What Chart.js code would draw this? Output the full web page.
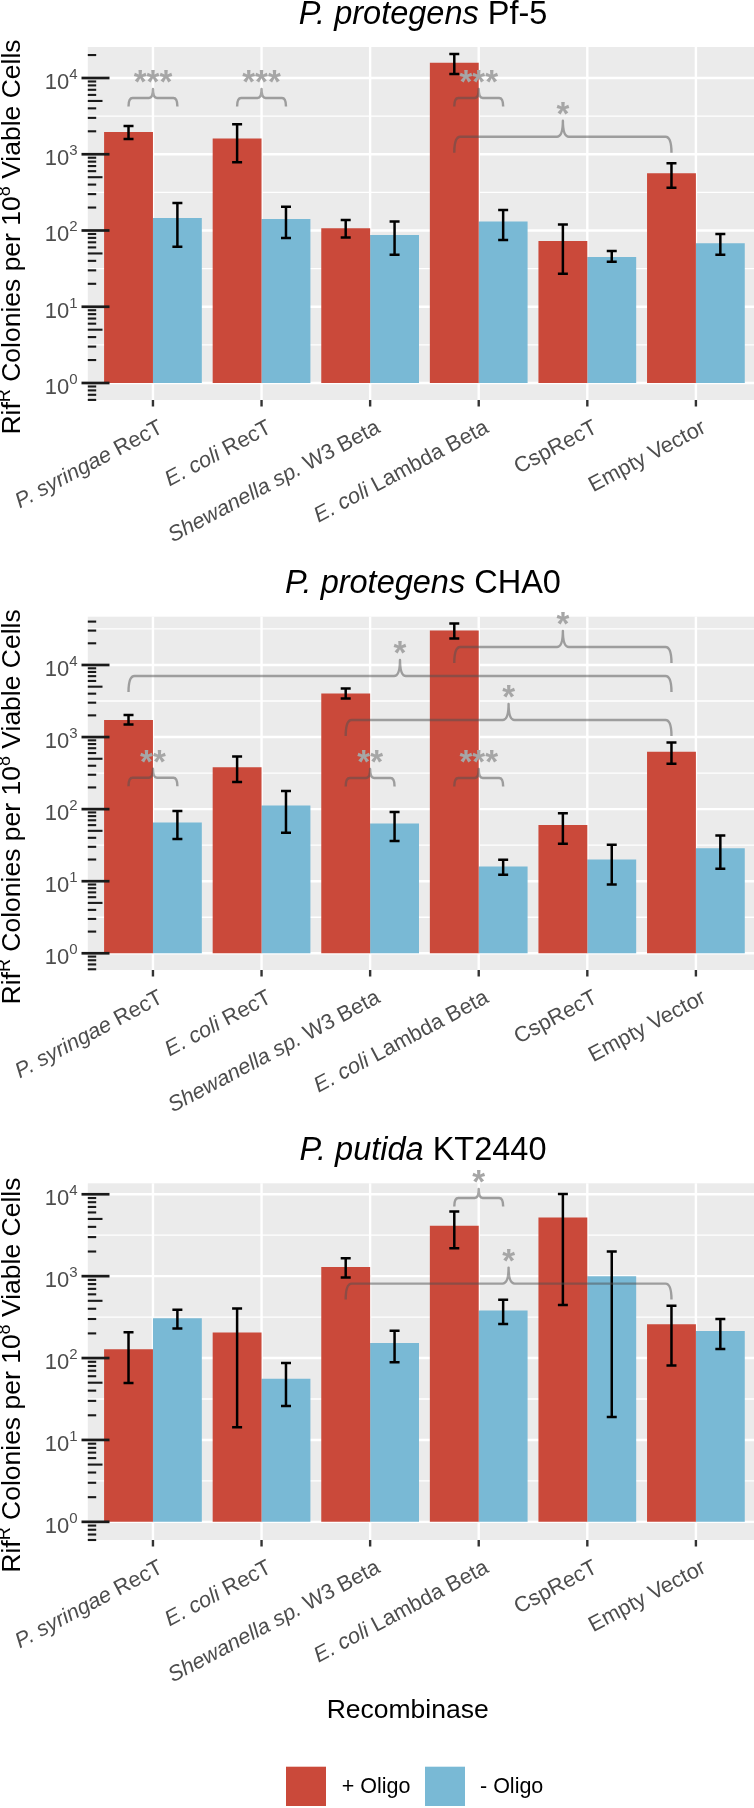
<!DOCTYPE html>
<html>
<head>
<meta charset="utf-8">
<script src="https://cdn.jsdelivr.net/npm/chart.js@4.4.1/dist/chart.umd.min.js"></script>
<style>
  html, body { margin: 0; padding: 0; background: #fff; }
  #page { position: relative; width: 754px; height: 1808px; }
  .band { position: absolute; left: 0; width: 754px; }
</style>
</head>
<body>
<div id="page">
  <div class="band" style="top:0;height:560px"><canvas id="pf5"></canvas></div>
  <div class="band" style="top:560px;height:568px"><canvas id="cha0"></canvas></div>
  <div class="band" style="top:1128px;height:680px"><canvas id="kt2440"></canvas></div>
</div>
<script>
// categories and series
const categories = ['P. syringae RecT', 'E. coli RecT', 'Shewanella sp. W3 Beta', 'E. coli Lambda Beta', 'CspRecT', 'Empty Vector'];
const speciesParts = ['P. syringae', 'E. coli', 'Shewanella sp.', 'E. coli', '', ''];
const seriesNames = ['+ Oligo', '- Oligo'];
const decadeExps = [0, 1, 2, 3, 4];

// P. protegens Pf-5
const pf5Plus = [1960, 1610, 107, 15860, 73, 562];
const pf5PlusLo = [1585, 784, 81, 11280, 27, 364];
const pf5PlusHi = [2345, 2470, 137, 20650, 120, 760];
const pf5Minus = [146, 141, 87, 131, 45, 68];
const pf5MinusLo = [61, 80, 48, 75, 39, 48];
const pf5MinusHi = [230, 205, 131, 186, 54, 90];

// P. protegens CHA0
const cha0Plus = [1730, 380, 4010, 30200, 60, 625];
const cha0PlusLo = [1490, 237, 3420, 23400, 33, 426];
const cha0PlusHi = [2030, 537, 4700, 37700, 88, 841];
const cha0Minus = [65, 112, 63, 16, 20, 28.7];
const cha0MinusLo = [38.5, 47, 36, 12.3, 9, 14.9];
const cha0MinusHi = [94, 178, 91, 19.8, 32, 43];

// P. putida KT2440
const kt2440Plus = [128, 205, 1298, 4130, 5210, 258];
const kt2440PlusLo = [49.5, 14.3, 963, 2190, 444, 81];
const kt2440PlusHi = [206, 402, 1655, 6170, 10100, 435];
const kt2440Minus = [306, 56, 153, 382, 1000, 214];
const kt2440MinusLo = [230, 26, 89, 261, 19.1, 129];
const kt2440MinusHi = [388, 87, 216, 515, 2000, 300];

// significance braces: [category from, series from, category to, series to, y value, label]
const pf5Brackets = [
  [0, 0, 0, 1, 5470, '***'],
  [1, 0, 1, 1, 5470, '***'],
  [3, 0, 3, 1, 5470, '***'],
  [3, 0, 5, 0, 1700, '*']
];
const cha0Brackets = [
  [0, 0, 5, 0, 7030, '*'],
  [3, 0, 5, 0, 17750, '*'],
  [2, 0, 5, 0, 1725, '*'],
  [0, 0, 0, 1, 273, '**'],
  [2, 0, 2, 1, 270, '**'],
  [3, 0, 3, 1, 270, '***']
];
const kt2440Brackets = [
  [3, 0, 3, 1, 9020, '*'],
  [2, 0, 5, 0, 811, '*']
];

const RED = 'rgb(202,73,58)';
const BLUE = 'rgb(121,185,213)';
const FONT = '"Liberation Sans", Arial, Helvetica, sans-serif';
const PANEL_LEFT = 87.8;

const panels = [
  { id: 'pf5', height: 560, plotTop: 47, plotBottom: 400, yMin: -0.223, yMax: 4.4066,
    title: [['P. protegens', true], [' Pf-5', false]],
    plus: pf5Plus, plusLo: pf5PlusLo, plusHi: pf5PlusHi,
    minus: pf5Minus, minusLo: pf5MinusLo, minusHi: pf5MinusHi, brackets: pf5Brackets },
  { id: 'cha0', height: 568, plotTop: 56.7, plotBottom: 410, yMin: -0.232, yMax: 4.670,
    title: [['P. protegens', true], [' CHA0', false]],
    plus: cha0Plus, plusLo: cha0PlusLo, plusHi: cha0PlusHi,
    minus: cha0Minus, minusLo: cha0MinusLo, minusHi: cha0MinusHi, brackets: cha0Brackets },
  { id: 'kt2440', height: 680, plotTop: 55.3, plotBottom: 412, yMin: -0.203, yMax: 4.134,
    title: [['P. putida', true], [' KT2440', false]],
    plus: kt2440Plus, plusLo: kt2440PlusLo, plusHi: kt2440PlusHi,
    minus: kt2440Minus, minusLo: kt2440MinusLo, minusHi: kt2440MinusHi, brackets: kt2440Brackets,
    last: true }
];

function setFont(ctx, size, italic, bold) {
  ctx.font = (italic ? 'italic ' : '') + (bold ? 'bold ' : '') + size + 'px ' + FONT;
}

function partsWidth(ctx, parts, size) {
  let w = 0;
  parts.forEach(([t, it, s]) => { setFont(ctx, s || size, it); w += ctx.measureText(t).width; });
  return w;
}

function drawParts(ctx, parts, x, y, size) {
  parts.forEach(([t, it, s, raise]) => {
    setFont(ctx, s || size, it);
    ctx.fillText(t, x, y - (raise || 0));
    x += ctx.measureText(t).width;
  });
}

function labelParts(i) {
  const sp = speciesParts[i];
  if (!sp) return [[categories[i], false]];
  return [[sp, true], [categories[i].slice(sp.length), false]];
}

function drawBrace(ctx, x1, x2, y, small) {
  const d = small ? 8.5 : 16, r = small ? 9 : 16, rad = small ? 4 : 6;
  const xm = (x1 + x2) / 2;
  ctx.beginPath();
  ctx.moveTo(x1, y + d);
  ctx.quadraticCurveTo(x1, y, x1 + rad, y);
  ctx.lineTo(xm - rad, y);
  ctx.quadraticCurveTo(xm, y, xm, y - r);
  ctx.quadraticCurveTo(xm, y, xm + rad, y);
  ctx.lineTo(x2 - rad, y);
  ctx.quadraticCurveTo(x2, y, x2, y + d);
  ctx.stroke();
  return y - r;
}

function decor(p) {
  return {
    id: 'decor_' + p.id,
    beforeDatasetsDraw(chart) {
      const { ctx, chartArea: a, scales: { x, y } } = chart;
      ctx.save();
      ctx.fillStyle = '#EBEBEB';
      ctx.fillRect(a.left, a.top, a.right - a.left, a.bottom - a.top);
      ctx.strokeStyle = '#FFFFFF';
      const lo = Math.log10(y.min), hi = Math.log10(y.max);
      // minor grid
      ctx.lineWidth = 1.3;
      for (let k = Math.floor(lo) - 1; k <= Math.ceil(hi); k++) {
        const lv = k + 0.5;
        if (lv < lo || lv > hi) continue;
        const py = y.getPixelForValue(Math.pow(10, lv));
        ctx.beginPath(); ctx.moveTo(a.left, py); ctx.lineTo(a.right, py); ctx.stroke();
      }
      // major grid
      ctx.lineWidth = 2.4;
      decadeExps.forEach(k => {
        if (k < lo || k > hi) return;
        const py = y.getPixelForValue(Math.pow(10, k));
        ctx.beginPath(); ctx.moveTo(a.left, py); ctx.lineTo(a.right, py); ctx.stroke();
      });
      categories.forEach((c, i) => {
        const px = x.getPixelForValue(i + 1);
        ctx.beginPath(); ctx.moveTo(px, a.top); ctx.lineTo(px, a.bottom); ctx.stroke();
      });
      ctx.restore();
    },
    afterDatasetsDraw(chart) {
      const { ctx, chartArea: a, scales: { y } } = chart;
      ctx.save();
      ctx.beginPath(); ctx.rect(a.left, a.top, a.right - a.left, a.bottom - a.top); ctx.clip();
      // error bars
      ctx.strokeStyle = '#000';
      ctx.lineWidth = 2.5;
      chart.data.datasets.forEach((ds, di) => {
        const meta = chart.getDatasetMeta(di);
        meta.data.forEach((el, j) => {
          const yl = y.getPixelForValue(ds.lo[j]);
          const yh = y.getPixelForValue(ds.hi[j]);
          const cw = 5;
          ctx.beginPath();
          ctx.moveTo(el.x, yl); ctx.lineTo(el.x, yh);
          ctx.moveTo(el.x - cw, yl); ctx.lineTo(el.x + cw, yl);
          ctx.moveTo(el.x - cw, yh); ctx.lineTo(el.x + cw, yh);
          ctx.stroke();
        });
      });
      ctx.restore();
      // significance braces (labels may sit above the panel)
      ctx.save();
      ctx.strokeStyle = 'rgba(80,80,80,0.5)';
      ctx.lineWidth = 2.4;
      ctx.lineJoin = 'round';
      p.brackets.forEach(([c1, s1, c2, s2, v, lab]) => {
        const x1 = chart.getDatasetMeta(s1).data[c1].x;
        const x2 = chart.getDatasetMeta(s2).data[c2].x;
        const py = y.getPixelForValue(v);
        const cusp = drawBrace(ctx, x1, x2, py, c1 === c2);
        setFont(ctx, 33, false, true);
        ctx.fillStyle = '#A6A6A6';
        ctx.textAlign = 'center';
        ctx.textBaseline = 'alphabetic';
        const m = ctx.measureText('*');
        const off = (m.actualBoundingBoxAscent - m.actualBoundingBoxDescent) / 2;
        ctx.fillText(lab, (x1 + x2) / 2, cusp - 12.5 + off);
      });
      ctx.restore();
    },
    afterDraw(chart) {
      const { ctx, chartArea: a, scales: { x, y } } = chart;
      ctx.save();
      // log ticks (annotation_logticks style) + axis ticks
      const lo = Math.log10(y.min), hi = Math.log10(y.max);
      ctx.strokeStyle = '#1a1a1a';
      for (let k = Math.floor(lo); k <= Math.ceil(hi); k++) {
        for (let m = 1; m <= 9; m++) {
          const lv = Math.log10(m) + k;
          if (lv < lo - 1e-9 || lv > hi + 1e-9) continue;
          const py = y.getPixelForValue(m * Math.pow(10, k));
          const len = m === 1 ? 21.7 : (m === 5 ? 14.7 : 8.4);
          ctx.lineWidth = m === 1 ? 2.7 : 2.1;
          ctx.beginPath();
          ctx.moveTo(m === 1 ? a.left - 6.3 : a.left, py);
          ctx.lineTo(a.left + len, py);
          ctx.stroke();
        }
      }
      ctx.strokeStyle = '#333';
      ctx.lineWidth = 2.4;
      categories.forEach((c, i) => {
        const px = x.getPixelForValue(i + 1);
        ctx.beginPath(); ctx.moveTo(px, a.bottom); ctx.lineTo(px, a.bottom + 6.5); ctx.stroke();
      });
      // y tick labels 10^k
      ctx.fillStyle = '#4D4D4D';
      ctx.textAlign = 'left';
      ctx.textBaseline = 'alphabetic';
      decadeExps.forEach(k => {
        if (k < lo || k > hi) return;
        const py = y.getPixelForValue(Math.pow(10, k));
        setFont(ctx, 15);
        const sw = ctx.measureText(String(k)).width;
        const right = 77.5;
        ctx.fillText(String(k), right - sw, py + 1);
        setFont(ctx, 22);
        const bw = ctx.measureText('10').width;
        ctx.fillText('10', right - sw - bw, py + 11);
      });
      // x tick labels
      categories.forEach((c, i) => {
        const px = x.getPixelForValue(i + 1);
        const parts = labelParts(i);
        ctx.save();
        ctx.translate(px + 4, a.bottom + 18);
        ctx.rotate(-28 * Math.PI / 180);
        const w = partsWidth(ctx, parts, 21.7);
        ctx.fillStyle = '#4D4D4D';
        drawParts(ctx, parts, -w, 15.5, 21.7);
        ctx.restore();
      });
      // panel title
      ctx.fillStyle = '#000';
      const tw = partsWidth(ctx, p.title, 32.5);
      drawParts(ctx, p.title, 423 - tw / 2, a.top - 23.5, 32.5);
      // y axis title
      const yt = [['Rif', false], ['R', false, 18, 10], [' Colonies per 10', false], ['8', false, 18, 10], [' Viable Cells', false]];
      ctx.save();
      ctx.translate(20, (a.top + a.bottom) / 2 + 13.5);
      ctx.rotate(-Math.PI / 2);
      const yw = partsWidth(ctx, yt, 26.5);
      drawParts(ctx, yt, -yw / 2, 0, 26.5);
      ctx.restore();
      if (p.last) {
        setFont(ctx, 26.5);
        ctx.textAlign = 'center';
        ctx.fillText('Recombinase', 407.7, 590);
        // legend
        const keys = [[286, 341.7], [425, 480]];
        ctx.textAlign = 'left';
        chart.data.datasets.forEach((ds, di) => {
          const [kx, tx] = keys[di];
          ctx.fillStyle = ds.backgroundColor;
          ctx.fillRect(kx, 638.7, 40, 39.3);
          ctx.fillStyle = '#000';
          setFont(ctx, 21.5);
          ctx.fillText(ds.label, tx, 665);
        });
      }
      ctx.restore();
    }
  };
}

function makeChart(p) {
  const toBars = vals => vals.map((v, i) => ({ x: i + 1, y: [1, v] }));
  new Chart(document.getElementById(p.id), {
    type: 'bar',
    data: {
      datasets: [
        { label: seriesNames[0], data: toBars(p.plus), lo: p.plusLo, hi: p.plusHi, backgroundColor: RED },
        { label: seriesNames[1], data: toBars(p.minus), lo: p.minusLo, hi: p.minusHi, backgroundColor: BLUE }
      ]
    },
    options: {
      animation: false,
      responsive: true,
      maintainAspectRatio: false,
      categoryPercentage: 0.9,
      barPercentage: 1.0,
      layout: { padding: { top: p.plotTop, left: 0, right: 0, bottom: 0 } },
      plugins: { legend: { display: false }, tooltip: { enabled: false } },
      scales: {
        x: {
          type: 'linear', min: 0.4, max: 6.535, offset: false,
          grid: { display: false }, border: { display: false }, ticks: { display: false },
          afterBuildTicks: s => { s.ticks = categories.map((c, i) => ({ value: i + 1 })); },
          afterFit: s => { s.height = p.height - p.plotBottom; }
        },
        y: {
          type: 'logarithmic', min: Math.pow(10, p.yMin), max: Math.pow(10, p.yMax),
          grid: { display: false }, border: { display: false }, ticks: { display: false },
          afterFit: s => { s.width = PANEL_LEFT; }
        }
      }
    },
    plugins: [decor(p)]
  });
}

panels.forEach(makeChart);
</script>
</body>
</html>
